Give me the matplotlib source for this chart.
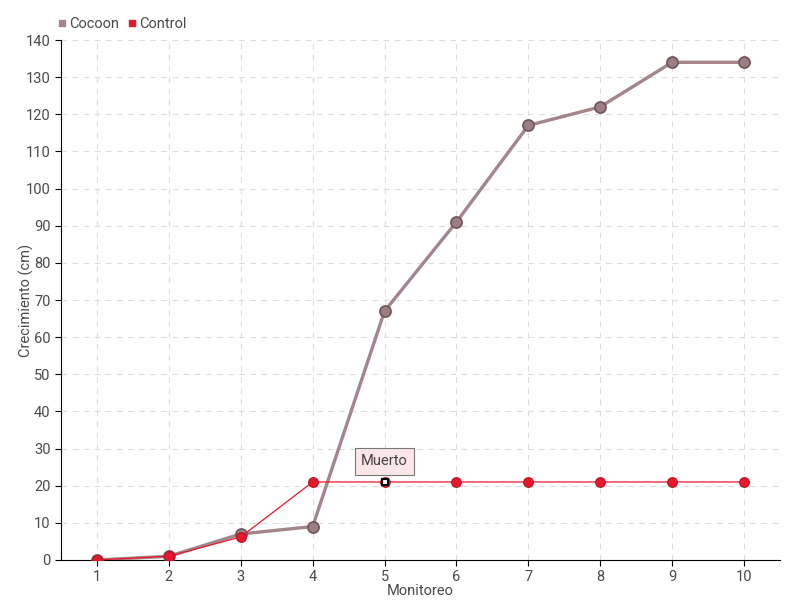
import matplotlib
matplotlib.use("Agg")
import matplotlib.pyplot as plt
from matplotlib.lines import Line2D

# data
monitoreo = [1, 2, 3, 4, 5, 6, 7, 8, 9, 10]
cocoon = [0, 1, 7, 9, 67, 91, 117, 122, 134, 134]
control = [0, 1, 6.2, 21, 21, 21, 21, 21, 21, 21]
y_ticks = list(range(0, 141, 10))

plt.rcParams["font.family"] = ["Roboto", "DejaVu Sans"]
TXT = "#4a4a4a"
C_COCOON = "#a3858a"
C_COCOON_EDGE = "#6e5457"
C_CONTROL = "#e8182c"

fig = plt.figure(figsize=(8, 6), dpi=100)
ax = fig.add_axes([0.07625, 0.0667, 0.89875, 0.8666])

ax.plot(monitoreo, cocoon, color=C_COCOON, lw=2.4, marker="o", ms=8,
        mfc="#9c7e83", mec=C_COCOON_EDGE, mew=1.2, zorder=3)
ax.plot(monitoreo, control, color=C_CONTROL, lw=0.9, marker="o", ms=7,
        mfc=C_CONTROL, mec="#c01020", mew=0.8, zorder=4)
# hovered point
ax.plot(monitoreo[4], control[4], marker="s", ms=5, mfc="white", mec="black",
        mew=1.5, ls="none", zorder=5)

ax.annotate("Muerto", xy=(monitoreo[4], control[4]), xytext=(0, 15),
            textcoords="offset points", ha="center", va="center",
            fontsize=10.5, color="#444444",
            bbox=dict(boxstyle="square,pad=0.45", fc="#fde6e8", ec="#777777", lw=0.8),
            zorder=6)

ax.set_xlim(0.5, 10.5)
ax.set_ylim(0, 140)
ax.set_xticks(monitoreo)
ax.set_yticks(y_ticks)
ax.tick_params(colors="black", labelcolor=TXT, labelsize=10.5, length=4, direction="out")
for s in ["top", "right"]:
    ax.spines[s].set_visible(False)
ax.grid(True, ls=(0, (5, 5)), color="#dddddd", lw=0.8)
ax.set_axisbelow(True)

ax.set_xlabel("Monitoreo", fontsize=10.5, color=TXT, labelpad=0)
ax.set_ylabel("Crecimiento (cm)", fontsize=10.5, color=TXT)
ax.yaxis.set_label_coords(-0.037, 0.5)

handles = [Line2D([], [], ls="none", marker="s", ms=5, color=C_COCOON),
           Line2D([], [], ls="none", marker="s", ms=5, color=C_CONTROL)]
fig.legend(handles, ["Cocoon", "Control"], loc="upper left",
           bbox_to_anchor=(0.055, 0.993), ncol=2, frameon=False, fontsize=10.5,
           handlelength=0.6, handletextpad=0.2, columnspacing=0.6,
           labelcolor=TXT)

fig.savefig("out.png", dpi=100)
